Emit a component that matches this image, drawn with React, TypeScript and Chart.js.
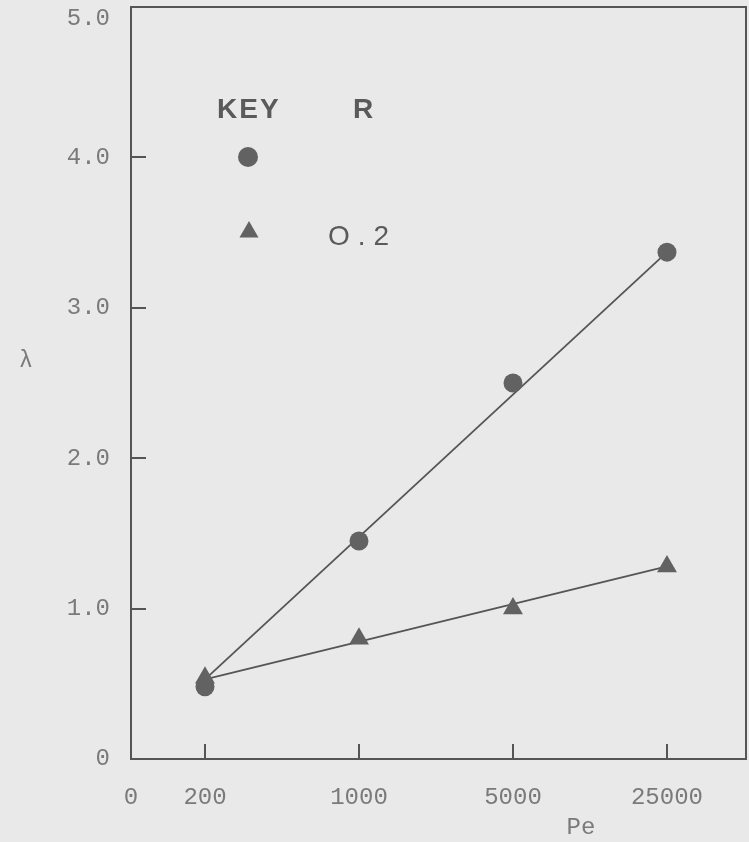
import React, { useEffect, useRef } from "react";
import { Chart, registerables } from "chart.js";

Chart.register(...registerables);

// ---- data ----
const peValues = [200, 1000, 5000, 25000];
const xTickLabels = ["0", "200", "1000", "5000", "25000"];
const lambdaCircle = [0.48, 1.45, 2.5, 3.37];
const lambdaTriangle = [0.54, 0.8, 1.0, 1.28];
const fitPe = [200, 25000];
const fitCircle = [0.53, 3.37];
const fitTriangle = [0.53, 1.28];
const yTickValues = [0, 1, 2, 3, 4, 5];
const legendTitle = "KEY";
const legendHeader = "R";
const legendTriangleLabel = "O.2";
const xTitle = "Pe";
const yTitle = "λ";

const INK = "#555555";
const TICK_TEXT = "#7a7a7a";
const MARK = "#626262";

const overlayPlugin = {
  id: "overlay",
  beforeDraw(chart: any) {
    const { ctx, width, height } = chart;
    ctx.save();
    ctx.fillStyle = "#e9e9e9";
    ctx.fillRect(0, 0, width, height);
    ctx.restore();
  },
  afterDraw(chart: any) {
    const { ctx, chartArea } = chart;
    ctx.save();
    // top and right frame lines
    ctx.strokeStyle = INK;
    ctx.lineWidth = 2;
    ctx.beginPath();
    ctx.moveTo(chartArea.left, chartArea.top);
    ctx.lineTo(chartArea.right, chartArea.top);
    ctx.lineTo(chartArea.right, chartArea.bottom);
    ctx.stroke();

    // axis titles
    ctx.fillStyle = TICK_TEXT;
    ctx.font = "24px 'Liberation Mono', monospace";
    ctx.textAlign = "center";
    ctx.textBaseline = "middle";
    ctx.fillText(xTitle, 581, 828);
    ctx.font = "23px 'Liberation Mono', monospace";
    ctx.fillText(yTitle, 26, 361);

    // key
    ctx.fillStyle = "#5a5a5a";
    ctx.textAlign = "left";
    ctx.textBaseline = "alphabetic";
    ctx.font = "bold 28px 'Liberation Sans', Arial, sans-serif";
    try { (ctx as any).letterSpacing = "2px"; } catch (e) {}
    ctx.fillText(legendTitle, 217, 118);
    try { (ctx as any).letterSpacing = "0px"; } catch (e) {}
    ctx.fillText(legendHeader, 353, 118);
    ctx.font = "28px 'Liberation Sans', Arial, sans-serif";
    try { (ctx as any).letterSpacing = "8px"; } catch (e) {}
    ctx.fillText(legendTriangleLabel, 328, 245);
    try { (ctx as any).letterSpacing = "0px"; } catch (e) {}

    ctx.fillStyle = MARK;
    ctx.beginPath();
    ctx.arc(248, 157, 10, 0, Math.PI * 2);
    ctx.fill();
    const r = 11;
    const cx = 249, cy = 232;
    ctx.beginPath();
    ctx.moveTo(cx, cy - r);
    ctx.lineTo(cx + r * Math.sin((2 * Math.PI) / 3), cy - r * Math.cos((2 * Math.PI) / 3));
    ctx.lineTo(cx + r * Math.sin((4 * Math.PI) / 3), cy - r * Math.cos((4 * Math.PI) / 3));
    ctx.closePath();
    ctx.fill();
    ctx.restore();
  },
};

export default function App() {
  const canvasRef = useRef<HTMLCanvasElement | null>(null);

  useEffect(() => {
    const canvas = canvasRef.current;
    if (!canvas) return;
    const xMin = 92.3;
    const xMax = 57100;
    const chart = new Chart(canvas, {
      type: "scatter",
      data: {
        datasets: [
          {
            label: "circle",
            data: peValues.map((p, i) => ({ x: p, y: lambdaCircle[i] })),
            showLine: false,
            pointStyle: "circle",
            pointRadius: 9.5,
            backgroundColor: MARK,
            borderColor: MARK,
            borderWidth: 0,
            order: 0,
          },
          {
            label: "R = 0.2",
            data: peValues.map((p, i) => ({ x: p, y: lambdaTriangle[i] })),
            showLine: false,
            pointStyle: "triangle",
            pointRadius: 11.5,
            backgroundColor: MARK,
            borderColor: MARK,
            borderWidth: 0,
            order: 1,
          },
          {
            label: "fit circle",
            data: fitPe.map((p, i) => ({ x: p, y: fitCircle[i] })),
            showLine: true,
            pointRadius: 0,
            borderColor: INK,
            borderWidth: 1.8,
            order: 2,
          },
          {
            label: "fit triangle",
            data: fitPe.map((p, i) => ({ x: p, y: fitTriangle[i] })),
            showLine: true,
            pointRadius: 0,
            borderColor: INK,
            borderWidth: 1.8,
            order: 3,
          },
        ],
      },
      options: {
        responsive: false,
        animation: false,
        layout: { autoPadding: false, padding: { top: 7, right: 3, left: 0, bottom: 0 } },
        plugins: {
          legend: { display: false },
          tooltip: { enabled: false },
        },
        scales: {
          x: {
            type: "logarithmic",
            min: xMin,
            max: xMax,
            afterBuildTicks: (scale: any) => {
              scale.ticks = [scale.min, ...peValues].map((v: number) => ({ value: v }));
            },
            afterFit: (scale: any) => {
              scale.height = 83;
              scale.paddingLeft = 0;
              scale.paddingRight = 0;
            },
            border: { display: true, color: INK, width: 2 },
            grid: {
              drawOnChartArea: false,
              drawTicks: true,
              tickLength: -15,
              color: INK,
              lineWidth: 2,
            },
            ticks: {
              autoSkip: false,
              maxRotation: 0,
              padding: 42,
              color: TICK_TEXT,
              font: { family: "'Liberation Mono', monospace", size: 24, lineHeight: 1 },
              callback: (_v: any, i: number) => xTickLabels[i],
            },
          },
          y: {
            type: "linear",
            min: 0,
            max: 5,
            afterBuildTicks: (scale: any) => {
              scale.ticks = yTickValues.map((v) => ({ value: v }));
            },
            afterFit: (scale: any) => {
              scale.width = 131;
              scale.paddingTop = 0;
              scale.paddingBottom = 0;
            },
            border: { display: true, color: INK, width: 2 },
            grid: {
              drawOnChartArea: false,
              drawTicks: true,
              tickLength: -15,
              color: INK,
              lineWidth: 2,
            },
            ticks: {
              padding: 36,
              color: TICK_TEXT,
              font: { family: "'Liberation Mono', monospace", size: 24, lineHeight: 1 },
              callback: (v: any) => {
                const n = Number(v);
                if (n === 0) return "0";
                if (n === 5) return ["", n.toFixed(1)];
                return n.toFixed(1);
              },
            },
          },
        },
      },
      plugins: [overlayPlugin],
    } as any);
    return () => chart.destroy();
  }, []);

  return (
    <div
      style={{
        position: "absolute",
        left: 0,
        top: 0,
        width: 749,
        height: 842,
        background: "#e9e9e9",
      }}
    >
      <canvas ref={canvasRef} width={749} height={842} style={{ display: "block" }} />
    </div>
  );
}
